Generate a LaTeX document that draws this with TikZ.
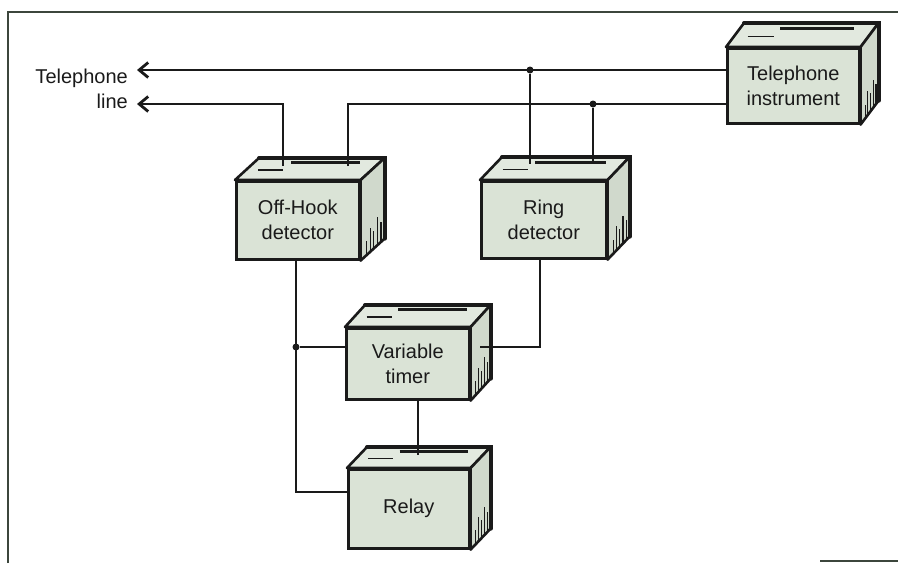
\documentclass[tikz,border=0pt]{standalone}
\usepackage{fontspec}
\setmainfont{Liberation Sans}
\usetikzlibrary{arrows.meta,calc}
\definecolor{boxfill}{HTML}{DAE3D6}
\definecolor{sidefill}{HTML}{D0D9CC}
\definecolor{topfill}{HTML}{E2E9DF}
\definecolor{ink}{HTML}{1A1A1A}
\definecolor{framec}{HTML}{3C463C}
\tikzset{
  front/.style={draw=ink, line width=2.6pt, fill=boxfill, align=center,
    font=\fontsize{20}{25}\selectfont, text=ink, inner sep=0pt, anchor=north west},
  wire/.style={draw=ink, line width=2.8pt},
  faceline/.style={draw=ink, line width=2.6pt, line join=round},
  junction/.style={circle, fill=ink, inner sep=0pt, minimum size=7pt},
  lbl/.style={font=\fontsize{20}{25}\selectfont, text=ink, inner sep=0pt, anchor=base east},
  barb/.style={{Straight Barb[length=9pt,width=15pt]}-},
  framel/.style={draw=framec, line width=1.8pt}
}
\newcommand\cubefaces[3]{%
  \coordinate (#1-tl) at ($(#1.north west)+(#2,#3)$);
  \coordinate (#1-tr) at ($(#1.north east)+(#2,#3)$);
  \coordinate (#1-br) at ($(#1.south east)+(#2,#3)$);
  \filldraw[faceline, fill=topfill] (#1.north west) -- (#1-tl) -- (#1-tr) -- (#1.north east) -- cycle;
  \filldraw[faceline, fill=sidefill] (#1.north east) -- (#1-tr) -- (#1-br) -- (#1.south east) -- cycle;
  \draw[ink, line width=4pt, line cap=round] (#1-tl) -- (#1-tr) -- (#1-br);
  \coordinate (#1-a) at ($(#1.north west)!0.78!(#1-tl)$);
  \coordinate (#1-b) at ($(#1.north east)!0.78!(#1-tr)$);
  \draw[ink, line width=3pt] ($(#1-a)!0.3!(#1-b)$) -- ($(#1-a)!0.85!(#1-b)$);
  \coordinate (#1-c) at ($(#1.north west)!0.45!(#1-tl)$);
  \coordinate (#1-d) at ($(#1.north east)!0.45!(#1-tr)$);
  \draw[ink, line width=1.4pt] ($(#1-c)!0.1!(#1-d)$) -- ($(#1-c)!0.3!(#1-d)$);
  \foreach \hf/\hl in {0.25/14,0.4/24,0.55/18,0.7/28,0.85/20}
    \draw[ink, line width=1.2pt] ($(#1.south east)!\hf!(#1-br)$) -- ++(0,-\hl);
}
\begin{document}
\begin{tikzpicture}[x=1pt, y=-1pt]
\useasboundingbox (0,0) rectangle (898,563);
% frame
\draw[framel] (8,563) -- (8,12) -- (898,12);
\draw[framel] (820,561) -- (898,561);

% boxes
\node[front, minimum width=123pt, minimum height=78pt] (off) at (235,180) {Off-Hook\\detector};
\cubefaces{off}{24}{-22}
\node[front, minimum width=125pt, minimum height=77pt] (ring) at (480,180) {Ring\\detector};
\cubefaces{ring}{22}{-23}
\node[front, minimum width=132pt, minimum height=75pt] (inst) at (726,47) {Telephone\\instrument};
\cubefaces{inst}{18}{-24}
\node[front, minimum width=123pt, minimum height=71pt] (timer) at (345,327) {Variable\\timer};
\cubefaces{timer}{20}{-22}
\node[front, minimum width=121pt, minimum height=79pt] (relay) at (347,468) {Relay};
\cubefaces{relay}{20}{-21}

% labels
\node[lbl] (tlab) at (128,83) {Telephone};
\node[lbl] (llab) at (128,108) {line};

% terminals and junctions
\coordinate (arrA) at (137,70);
\coordinate (arrB) at (137,104);
\coordinate (offT1) at (283,166);
\coordinate (offT2) at (348,166);
\coordinate (ringT1) at (530,164);
\coordinate (ringT2) at (593,164);
\coordinate (offB) at (296,258);
\coordinate (ringB) at (540,257);
\coordinate (timerR) at (480,347);
\coordinate (timerB) at (418,398);
\coordinate (relayT) at (418,455);
\coordinate (relayL) at (347,492);
\node[junction] (j1) at (530,70) {};
\node[junction] (j2) at (593,104) {};
\node[junction] (j3) at (296,347) {};

% wires
\draw[wire, barb] (arrA) -- (inst.west |- arrA);
\draw[wire, barb] (arrB) -| (offT1);
\draw[wire] (offT2) |- (inst.west |- arrB);
\draw[wire] (j1) -- (ringT1);
\draw[wire] (j2) -- (ringT2);
\draw[wire] (offB) |- (relayL);
\draw[wire] (j3) -- (timer.west |- j3);
\draw[wire] (ringB) |- (timerR);
\draw[wire] (timerB) -- (relayT);
\end{tikzpicture}
\end{document}
